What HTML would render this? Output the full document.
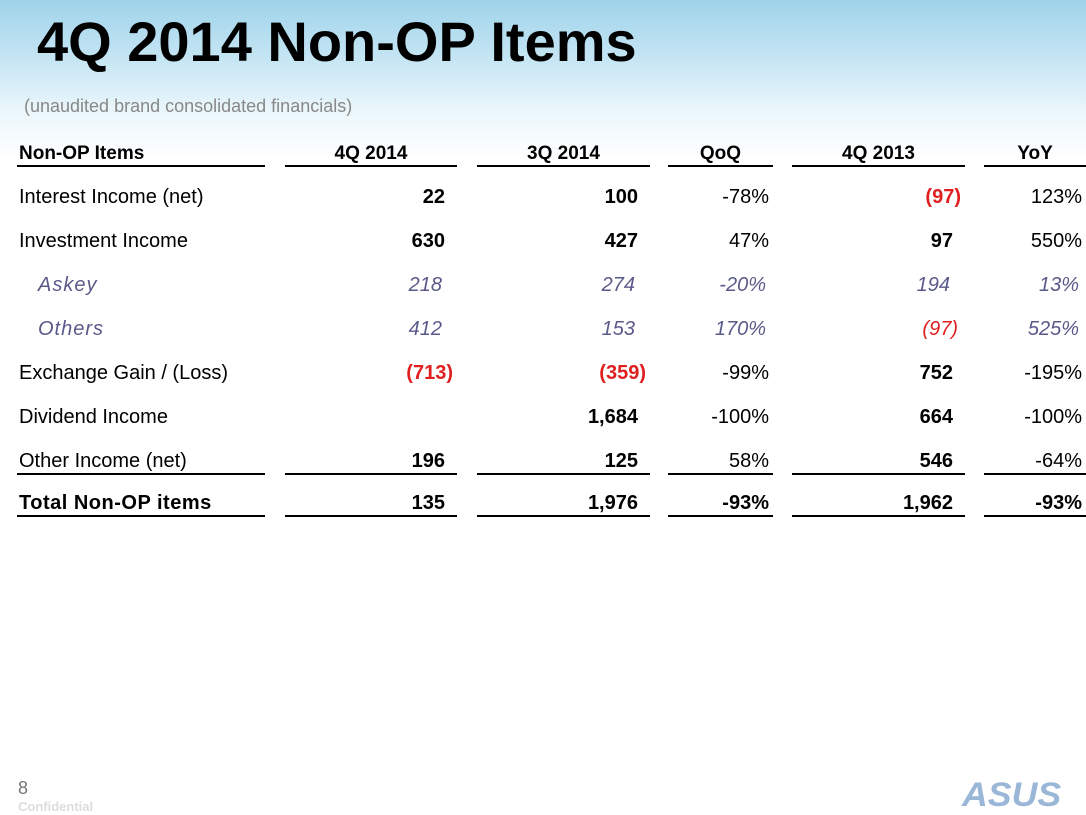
<!DOCTYPE html>
<html><head><meta charset="utf-8"><style>
body{margin:0;width:1086px;height:815px;overflow:hidden;position:relative;font-family:"Liberation Sans",Arial,sans-serif;
background:linear-gradient(to bottom,#9fd3ea 0px,#c6e6f4 60px,#eaf6fb 110px,#ffffff 160px,#ffffff 815px);}
.a{position:absolute;white-space:nowrap}
.t{font-size:20px;color:#000;line-height:24px}
.hl{position:absolute;height:2px;background:#000}
</style></head><body>
<div class="a" style="left:37px;top:10px;font-size:56px;font-weight:bold;line-height:64px">4Q 2014 Non-OP Items</div>
<div class="a" style="left:24px;top:96px;font-size:18px;color:#888">(unaudited brand consolidated financials)</div>
<div id="tbl"></div>
<div class="a" style="left:18px;top:778px;font-size:18px;color:#777">8</div>
<div class="a" style="left:18px;top:799px;font-size:13px;font-weight:bold;color:#ddd">Confidential</div>
<div class="a" style="left:962px;top:776px;font-size:34px;font-weight:bold;font-style:italic;color:#9bb7d8;letter-spacing:0px;transform:scaleX(1.05);transform-origin:left">ASUS</div>
<script>
const headers=["Non-OP Items","4Q 2014","3Q 2014","QoQ","4Q 2013","YoY"];
const labels=["Interest Income (net)","Investment Income","Askey","Others","Exchange Gain / (Loss)","Dividend Income","Other Income (net)","Total Non-OP items"];
const q4_2014=["22","630","218","412","(713)","","196","135"];
const q3_2014=["100","427","274","153","(359)","1,684","125","1,976"];
const qoq=["-78%","47%","-20%","170%","-99%","-100%","58%","-93%"];
const q4_2013=["(97)","97","194","(97)","752","664","546","1,962"];
const yoy=["123%","550%","13%","525%","-195%","-100%","-64%","-93%"];
const cols=[[17,265],[285,457],[477,650],[668,773],[792,965],[984,1086]];
const tbl=document.getElementById('tbl');
function txt(s,css){const d=document.createElement('div');d.className='a t';d.textContent=s;d.style.cssText+=css;tbl.appendChild(d);return d;}
headers.forEach((h,i)=>{
  const css=i==0?`left:19px;top:142px;font-weight:bold;font-size:19px`:`left:${cols[i][0]}px;width:${cols[i][1]-cols[i][0]}px;text-align:center;top:142px;font-weight:bold;font-size:19px`;
  const d=txt(h,css);
  
  
  const l=document.createElement('div');l.className='hl';l.style.cssText=`left:${cols[i][0]}px;width:${cols[i][1]-cols[i][0]}px;top:165px`;
  
  
  tbl.appendChild(l);
});
const series=[q4_2014,q3_2014,qoq,q4_2013,yoy];
const rowsY=[185,229,273,317,361,405,449,491];
labels.forEach((lab,r)=>{
  const sub=(r==2||r==3), tot=(r==7);
  const y=rowsY[r];
  const d=txt(lab,`left:${sub?38:19}px;top:${y}px;`+(sub?'font-style:italic;color:#5a5a8a;letter-spacing:1px;':'')+(tot?'font-weight:bold;font-size:20px;letter-spacing:0.5px;':''));
  
  
  series.forEach((s,c)=>{
    const v=s[r]; if(!v) return;
    const pct=(c==2||c==4);
    const neg=v[0]=='(';
    const right=cols[c+1][1]-(pct?4:(neg?4:12))-(sub?3:0);
    const bold=!pct&&!sub||tot;
    let color=sub?'#5a5a8a':'#000'; if(neg) color='#e02020';
    const e=txt(v,`right:${1086-right}px;top:${y}px;color:${color};`+(bold?'font-weight:bold;':'')+(sub?'font-style:italic;':''));
    
    
  });
});
[473,515].forEach(y=>cols.forEach(c=>{
  const l=document.createElement('div');l.className='hl';l.style.cssText=`left:${c[0]}px;width:${c[1]-c[0]}px;top:${y}px`;
  
  
  tbl.appendChild(l);
}));
</script>
</body></html>
